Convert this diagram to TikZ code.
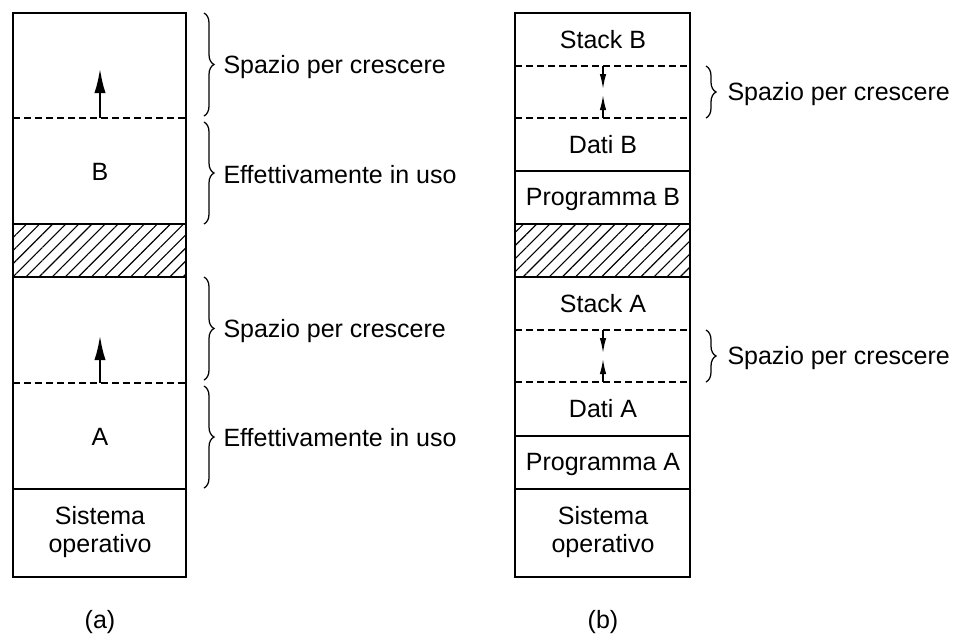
\documentclass[tikz,border=0pt]{standalone}
\usepackage{fontspec}
\setmainfont{Liberation Sans}
\usetikzlibrary{
  arrows.meta,
  decorations.pathreplacing,
  patterns.meta
}

\begin{document}
\begin{tikzpicture}[x=0.4pt, y=-0.4pt, font=\fontsize{10}{11.5}\selectfont,
    wall/.style={line width=0.8pt},
    gapline/.style={line width=0.5pt, dash pattern=on 2.8pt off 1.6pt},
    hatch/.style={pattern={Lines[angle=45, distance=3.7pt, line width=0.45pt]}},
    growarrow/.style={line width=1.1pt, -{Latex[length=10pt, width=4.5pt]}},
    nudge/.style={line width=0.6pt, -{Latex[length=6pt, width=2.6pt]}},
    span/.style={decorate, decoration={brace, amplitude=4pt}, line width=0.5pt},
    every node/.style={inner sep=0pt}]
  \useasboundingbox (0,0) rectangle (957,643);

  % Column (a): hole between B and A
  \fill[hatch] (13,224) rectangle (186,277);
  \draw[wall] (13,13) rectangle (186,577);
  \foreach \y in {224, 277, 489} {
    \draw[wall] (13,\y) -- (186,\y);
  }
  \foreach \y in {118, 383} {
    \draw[gapline] (13,\y) -- (186,\y);
  }

  % Column (b): hole between Programma B and Stack A
  \fill[hatch] (515,224) rectangle (690,277);
  \draw[wall] (515,13) rectangle (690,577);
  \foreach \y in {171, 224, 277, 436, 489} {
    \draw[wall] (515,\y) -- (690,\y);
  }
  \foreach \y in {66, 118, 330, 382} {
    \draw[gapline] (515,\y) -- (690,\y);
  }

  % Growth arrows (a)
  \coordinate (growB) at (100,118);
  \coordinate (growBtip) at (100,68);
  \coordinate (growA) at (100,383);
  \coordinate (growAtip) at (100,335);
  \draw[growarrow] (growB) -- (growBtip);
  \draw[growarrow] (growA) -- (growAtip);

  % Growth arrows (b)
  \coordinate (stackB) at (603,66);
  \coordinate (stackBtip) at (603,89);
  \coordinate (datiB) at (603,118);
  \coordinate (datiBtip) at (603,95);
  \coordinate (stackA) at (603,330);
  \coordinate (stackAtip) at (603,353);
  \coordinate (datiA) at (603,382);
  \coordinate (datiAtip) at (603,359);
  \draw[nudge] (stackB) -- (stackBtip);
  \draw[nudge] (datiB) -- (datiBtip);
  \draw[nudge] (stackA) -- (stackAtip);
  \draw[nudge] (datiA) -- (datiAtip);

  % Braces (a)
  \coordinate (freeBtop) at (204,13);
  \coordinate (freeBbot) at (204,116);
  \coordinate (usedBtop) at (204,122);
  \coordinate (usedBbot) at (204,224);
  \coordinate (freeAtop) at (204,277);
  \coordinate (freeAbot) at (204,380);
  \coordinate (usedAtop) at (204,386);
  \coordinate (usedAbot) at (204,488);
  \draw[span] (freeBtop) -- (freeBbot);
  \draw[span] (usedBtop) -- (usedBbot);
  \draw[span] (freeAtop) -- (freeAbot);
  \draw[span] (usedAtop) -- (usedAbot);

  % Braces (b)
  \coordinate (holeBtop) at (706,66);
  \coordinate (holeBbot) at (706,118);
  \coordinate (holeAtop) at (706,330);
  \coordinate (holeAbot) at (706,382);
  \draw[span] (holeBtop) -- (holeBbot);
  \draw[span] (holeAtop) -- (holeAbot);

  % Box texts (a)
  \node (procB) at (100,172) {B};
  \node (procA) at (100,437) {A};
  \node[align=center] (osA) at (100,532) {Sistema\\operativo};

  % Box texts (b)
  \node (stkB) at (603,40) {Stack B};
  \node (datB) at (603,145) {Dati B};
  \node (prgB) at (603,199) {Programma B};
  \node (stkA) at (603,304) {Stack A};
  \node (datA) at (603,409) {Dati A};
  \node (prgA) at (603,464) {Programma A};
  \node[align=center] (osB) at (603,532) {Sistema\\operativo};

  % Brace labels
  \node[anchor=west] (lblFreeB) at (223,67) {Spazio per crescere};
  \node[anchor=west] (lblUsedB) at (223,175) {Effettivamente in uso};
  \node[anchor=west] (lblFreeA) at (223,331) {Spazio per crescere};
  \node[anchor=west] (lblUsedA) at (223,438) {Effettivamente in uso};
  \node[anchor=west] (lblHoleB) at (727,94) {Spazio per crescere};
  \node[anchor=west] (lblHoleA) at (727,358) {Spazio per crescere};

  % Captions
  \node (capA) at (100,622) {(a)};
  \node (capB) at (603,622) {(b)};
\end{tikzpicture}
\end{document}
